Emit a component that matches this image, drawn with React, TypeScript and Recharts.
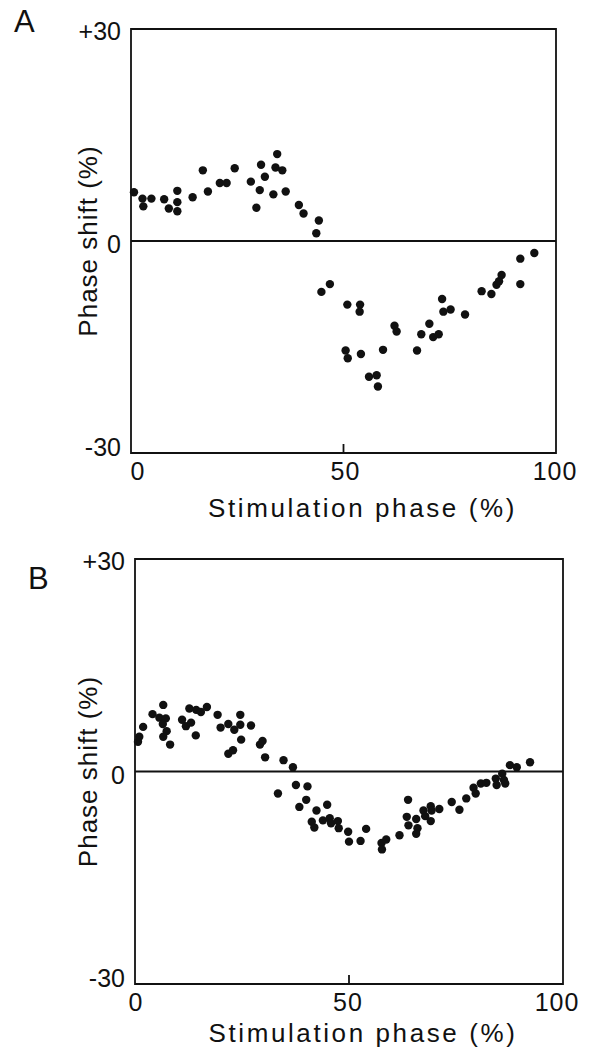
import {
  Label,
  ReferenceArea,
  ReferenceLine,
  Scatter,
  ScatterChart,
  XAxis,
  YAxis,
} from "recharts"

// panel A: stimulation phase (%) vs phase shift (%)
const panelA = [
  [0.7, 6.9], [2.7, 6.0], [2.9, 4.9], [4.8, 6.0], [7.8, 5.9], [8.9, 4.6], [10.9, 7.1],
  [10.9, 5.5], [10.9, 4.2], [14.5, 6.2], [16.9, 10.0], [18.1, 7.0], [20.9, 8.2], [22.5, 8.2],
  [24.4, 10.3], [28.2, 8.4], [29.5, 4.7], [30.3, 7.2], [30.6, 10.8], [31.5, 9.1], [33.5, 6.6],
  [34.0, 10.4], [34.4, 12.3], [35.6, 10.0], [36.4, 7.0], [39.5, 5.1], [40.6, 3.9], [44.2, 2.9],
  [43.6, 1.1], [44.8, -7.2], [46.8, -6.1], [50.9, -9.0], [53.9, -9.0], [53.8, -10.0],
  [50.5, -15.5], [51.0, -16.6], [54.1, -16.0], [56.0, -19.2], [57.8, -19.0], [58.1, -20.6],
  [59.3, -15.4], [62.0, -12.0], [62.5, -12.8], [67.3, -15.5], [68.3, -13.2], [70.2, -11.7],
  [71.1, -13.6], [72.4, -13.2], [73.2, -8.2], [73.5, -10.0], [75.2, -9.7], [78.6, -10.4],
  [82.5, -7.1], [84.8, -7.5], [86.0, -6.2], [86.6, -5.7], [87.2, -4.8], [91.6, -6.1],
  [91.6, -2.5], [94.9, -1.7],
]

// panel B
const panelB = [
  [0.7, 4.2], [1.0, 4.9], [1.9, 6.3], [4.1, 8.1], [5.7, 7.6], [6.6, 9.4], [7.2, 7.5],
  [6.5, 6.7], [7.4, 5.7], [6.6, 4.9], [8.2, 3.8], [11.0, 7.3], [11.9, 6.4], [13.1, 6.9],
  [12.7, 8.9], [14.3, 8.7], [15.4, 8.4], [16.8, 9.1], [14.2, 5.1], [19.3, 8.0], [20.0, 6.2],
  [21.8, 6.7], [23.2, 5.9], [24.6, 8.0], [24.6, 6.6], [24.8, 4.5], [21.8, 2.5], [22.9, 3.0],
  [27.1, 6.5], [29.2, 3.8], [29.8, 4.3], [30.4, 2.0], [34.7, 1.6], [36.9, 0.6], [33.4, -3.1],
  [37.6, -1.9], [40.3, -2.1], [40.0, -4.0], [38.4, -5.0], [42.4, -5.5], [44.9, -4.7],
  [41.3, -7.1], [41.9, -7.9], [43.9, -6.9], [45.5, -6.6], [45.8, -7.3], [47.4, -7.0],
  [47.6, -8.0], [49.8, -8.5], [50.0, -9.9], [52.7, -9.8], [54.0, -8.1], [57.6, -10.1],
  [57.7, -11.0], [58.7, -9.6], [61.8, -9.0], [63.8, -4.0], [63.5, -6.4], [63.9, -7.6],
  [65.7, -6.7], [66.0, -8.0], [65.7, -8.8], [67.4, -5.5], [67.8, -6.3], [69.1, -4.9],
  [69.3, -5.5], [69.1, -7.0], [71.1, -5.3], [74.0, -4.3], [75.8, -5.4], [77.4, -3.8],
  [79.1, -2.3], [79.6, -3.1], [80.8, -1.7], [82.1, -1.6], [84.3, -1.0], [84.5, -1.9],
  [85.8, -0.3], [86.2, -1.2], [86.5, -1.7], [87.6, 0.9], [89.2, 0.6], [92.3, 1.3],
]

const xTicks = [0, 50, 100]
const yTicks = [-30, 0, 30]
const yTickLabels: Record<number, string> = { "-30": "-30", 0: "0", 30: "+30" }
const xTitle = "Stimulation phase (%)"
const yTitle = "Phase shift (%)"

const FONT = "'Liberation Sans', Arial, Helvetica, sans-serif"
const INK = "#111"

const toPoints = (rows: number[][]) => rows.map(([x, y]) => ({ x, y }))

const Dot = (props: any) => <circle cx={props.cx} cy={props.cy} r={4.2} fill={INK} />

type PanelProps = {
  data: number[][]
  height: number
  plotLeft: number
  plotRight: number
  xAxisHeight: number
  xLabelDx: Record<number, number>
  titleDx: number
  titleDy: number
}

const Panel = ({ data, height, plotLeft, plotRight, xAxisHeight, xLabelDx, titleDx, titleDy }: PanelProps) => {
  const points = toPoints(data)

  const renderXTick = (p: any) => {
    const v = p.payload.value
    return (
      <g>
        {v === 50 && <line x1={p.x} x2={p.x} y1={p.y} y2={p.y - 9} stroke={INK} strokeWidth={1.8} />}
        <text
          x={p.x + (xLabelDx[v] ?? 0)}
          y={p.y + 27}
          textAnchor="middle"
          fontFamily={FONT}
          fontSize={25}
          letterSpacing={1}
          fill={INK}
        >
          {v}
        </text>
      </g>
    )
  }

  const renderYTick = (p: any) => {
    const v = p.payload.value
    const dy = v === 30 ? 2 : v === 0 ? 3 : -6
    return (
      <text
        x={p.x - 10}
        y={p.y + dy}
        textAnchor="end"
        dominantBaseline="central"
        fontFamily={FONT}
        fontSize={25}
        fill={INK}
      >
        {yTickLabels[v]}
      </text>
    )
  }

  return (
    <ScatterChart
      width={593}
      height={height}
      margin={{ top: 29, right: 593 - plotRight, bottom: 0, left: 0 }}
    >
      <XAxis
        type="number"
        dataKey="x"
        domain={[0, 100]}
        ticks={xTicks}
        interval={0}
        axisLine={false}
        tickLine={false}
        tickSize={0}
        tickMargin={0}
        height={xAxisHeight}
        tick={renderXTick}
      >
        <Label
          content={(lp: any) => {
            const vb = lp.viewBox
            return (
              <text
                x={vb.x + vb.width / 2 + titleDx}
                y={vb.y + titleDy}
                textAnchor="middle"
                fontFamily={FONT}
                fontSize={26}
                letterSpacing={2.6}
                fill={INK}
              >
                {xTitle}
              </text>
            )
          }}
        />
      </XAxis>
      <YAxis
        type="number"
        dataKey="y"
        domain={[-30, 30]}
        ticks={yTicks}
        interval={0}
        axisLine={false}
        tickLine={false}
        tickSize={0}
        tickMargin={0}
        width={plotLeft}
        tick={renderYTick}
      >
        <Label
          content={(lp: any) => {
            const vb = lp.viewBox
            const cx = 88
            const cy = vb.y + vb.height / 2
            return (
              <text
                x={cx}
                y={cy}
                transform={`rotate(-90, ${cx}, ${cy})`}
                textAnchor="middle"
                dominantBaseline="central"
                fontFamily={FONT}
                fontSize={26}
                letterSpacing={1}
                fill={INK}
              >
                {yTitle}
              </text>
            )
          }}
        />
      </YAxis>
      <ReferenceArea x1={0} x2={100} y1={-30} y2={30} fill="none" fillOpacity={0} stroke={INK} strokeWidth={1.8} />
      <ReferenceLine y={0} stroke={INK} strokeWidth={1.8} />
      <Scatter data={points} shape={Dot} isAnimationActive={false} />
    </ScatterChart>
  )
}

const letterStyle = (left: number, top: number) => ({
  position: "absolute" as const,
  left,
  top,
  fontFamily: FONT,
  fontSize: 31,
  lineHeight: 1,
  color: INK,
})

const App = () => {
  return (
    <div style={{ position: "absolute", left: 0, top: 0, width: 593, height: 1051, background: "#fff" }}>
      <div style={{ position: "absolute", left: 0, top: 0 }}>
        <Panel
          data={panelA}
          height={530}
          plotLeft={131}
          plotRight={556}
          xAxisHeight={77}
          xLabelDx={{ 0: 7, 50: 2, 100: -1 }}
          titleDx={19}
          titleDy={64}
        />
      </div>
      <div style={{ position: "absolute", left: 0, top: 530 }}>
        <Panel
          data={panelB}
          height={521}
          plotLeft={135}
          plotRight={563}
          xAxisHeight={67}
          xLabelDx={{ 0: 1, 50: -1, 100: -6 }}
          titleDx={14}
          titleDy={58}
        />
      </div>
      <div style={letterStyle(14, 6)}>A</div>
      <div style={letterStyle(28, 563)}>B</div>
    </div>
  )
}

export default App
